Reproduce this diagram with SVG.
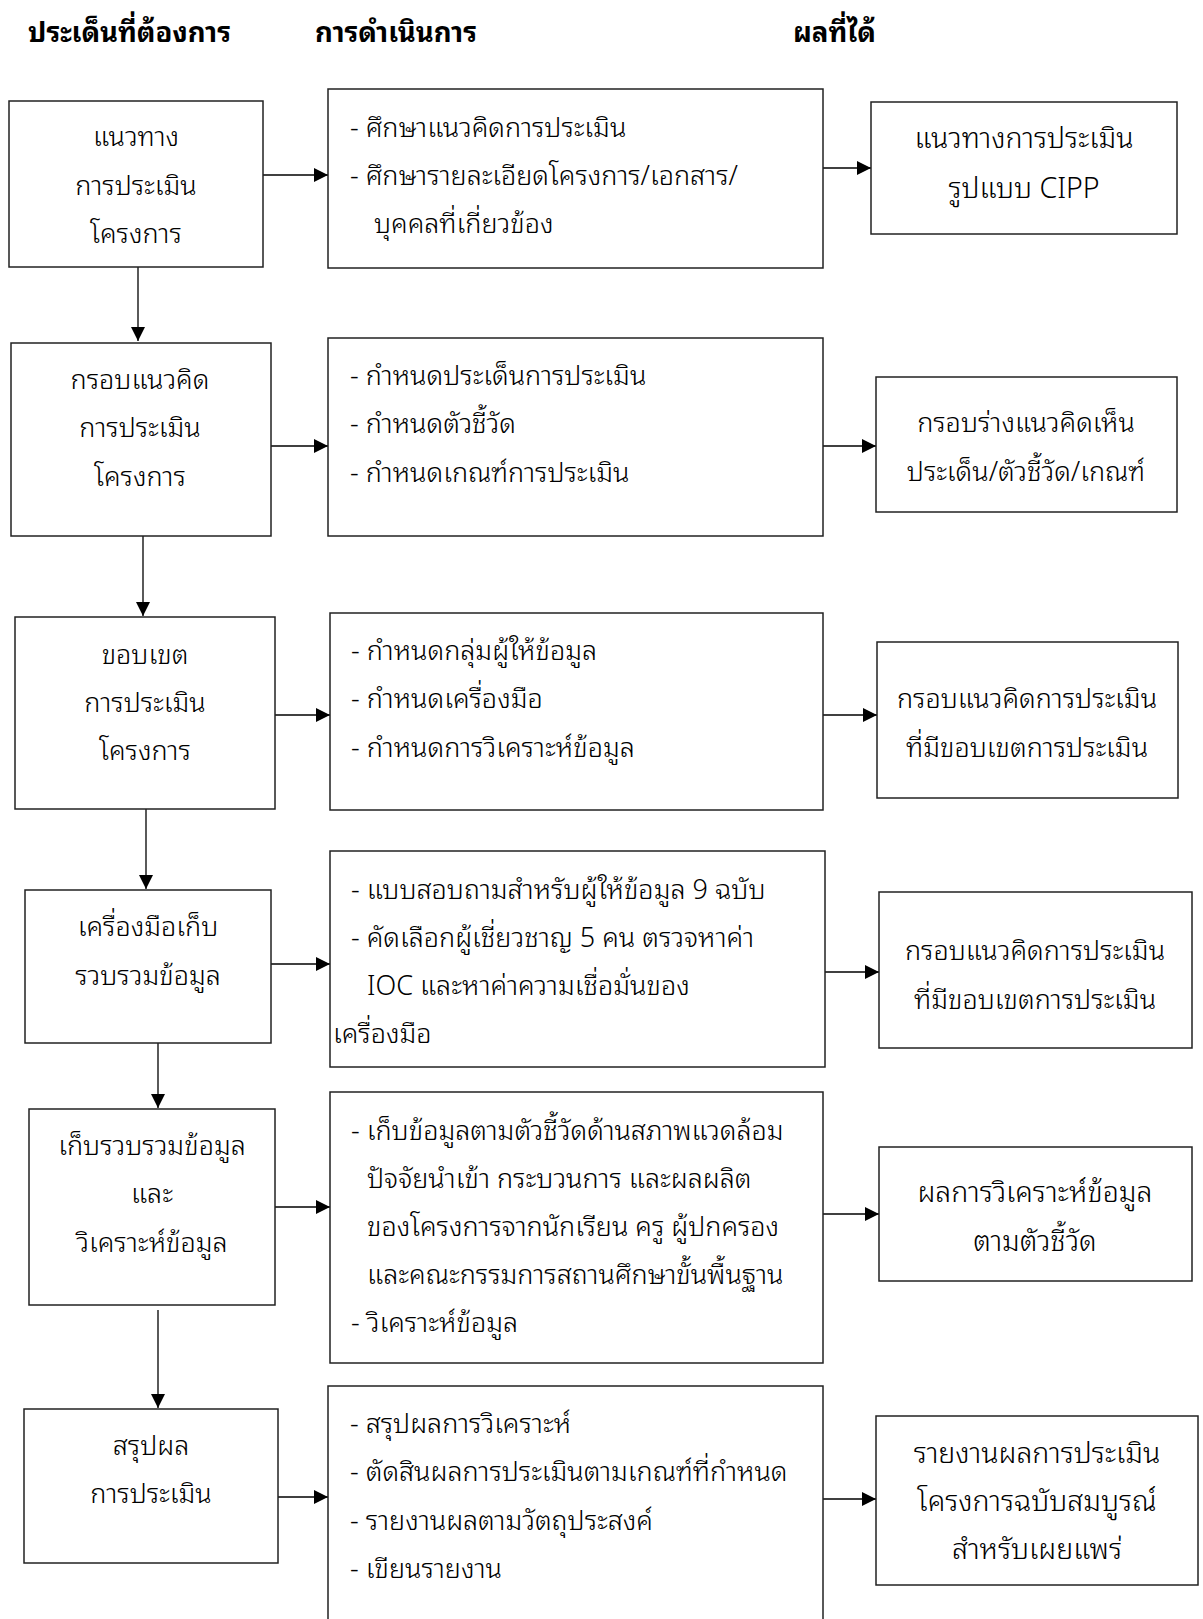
<svg xmlns="http://www.w3.org/2000/svg" width="1203" height="1619" viewBox="0 0 1203 1619">
<style>
text{font-family:"Noto Sans Thai Looped","Loma","Garuda","Noto Sans Thai","Noto Sans",sans-serif;font-size:27px;font-weight:300;fill:#000}
.h{font-weight:bold;font-size:27.5px}
.c{text-anchor:middle}
.w{font-size:28.5px}
.box{fill:#fff;stroke:#222;stroke-width:1.5}
.ln{stroke:#000;stroke-width:1.3;fill:none}
</style>
<defs>
<marker id="ah" viewBox="0 0 10 10" refX="10" refY="5" markerWidth="14" markerHeight="14" markerUnits="userSpaceOnUse" orient="auto">
<path d="M0,0 L10,5 L0,10 z" fill="#000"/>
</marker>
</defs>
<rect width="1203" height="1619" fill="#fff"/>
<g id="headers">
<text class="h" x="28" y="42">ประเด็นที่ต้องการ</text>
<text class="h" x="315" y="42">การดำเนินการ</text>
<text class="h" x="793" y="42">ผลที่ได้</text>
</g>
<g id="connectors">
<line class="ln" x1="263" y1="175" x2="328" y2="175" marker-end="url(#ah)"/>
<line class="ln" x1="823" y1="168" x2="871" y2="168" marker-end="url(#ah)"/>
<line class="ln" x1="138" y1="267" x2="138" y2="341" marker-end="url(#ah)"/>
<line class="ln" x1="271" y1="446" x2="328" y2="446" marker-end="url(#ah)"/>
<line class="ln" x1="823" y1="446" x2="876" y2="446" marker-end="url(#ah)"/>
<line class="ln" x1="143" y1="536" x2="143" y2="616" marker-end="url(#ah)"/>
<line class="ln" x1="275" y1="715" x2="330" y2="715" marker-end="url(#ah)"/>
<line class="ln" x1="823" y1="715" x2="877" y2="715" marker-end="url(#ah)"/>
<line class="ln" x1="146" y1="809" x2="146" y2="889" marker-end="url(#ah)"/>
<line class="ln" x1="271" y1="964" x2="330" y2="964" marker-end="url(#ah)"/>
<line class="ln" x1="825" y1="972" x2="879" y2="972" marker-end="url(#ah)"/>
<line class="ln" x1="158" y1="1043" x2="158" y2="1108" marker-end="url(#ah)"/>
<line class="ln" x1="275" y1="1207" x2="330" y2="1207" marker-end="url(#ah)"/>
<line class="ln" x1="823" y1="1214" x2="879" y2="1214" marker-end="url(#ah)"/>
<line class="ln" x1="158" y1="1310" x2="158" y2="1408" marker-end="url(#ah)"/>
<line class="ln" x1="278" y1="1497" x2="328" y2="1497" marker-end="url(#ah)"/>
<line class="ln" x1="823" y1="1499" x2="876" y2="1499" marker-end="url(#ah)"/>
</g>
<g id="n1a"><rect class="box" x="9" y="101" width="254" height="166"/>
<text class="c" x="136" y="146">แนวทาง</text><text class="c" x="136" y="195">การประเมิน</text><text class="c" x="136" y="243">โครงการ</text></g>
<g id="n1b"><rect class="box" x="328" y="89" width="495" height="179"/>
<text x="350" y="137">- ศึกษาแนวคิดการประเมิน</text><text x="350" y="185">- ศึกษารายละเอียดโครงการ/เอกสาร/</text><text x="374" y="233">บุคคลที่เกี่ยวข้อง</text></g>
<g id="n1c"><rect class="box" x="871" y="102" width="306" height="132"/>
<text class="c w" x="1024" y="148">แนวทางการประเมิน</text><text class="c w" x="1024" y="198">รูปแบบ CIPP</text></g>

<g id="n2a"><rect class="box" x="11" y="343" width="260" height="193"/>
<text class="c" x="140" y="389">กรอบแนวคิด</text><text class="c" x="140" y="437">การประเมิน</text><text class="c" x="140" y="486">โครงการ</text></g>
<g id="n2b"><rect class="box" x="328" y="338" width="495" height="198"/>
<text x="350" y="385">- กำหนดประเด็นการประเมิน</text><text x="350" y="433">- กำหนดตัวชี้วัด</text><text x="350" y="482">- กำหนดเกณฑ์การประเมิน</text></g>
<g id="n2c"><rect class="box" x="876" y="377" width="301" height="135"/>
<text class="c" x="1026" y="432">กรอบร่างแนวคิดเห็น</text><text class="c" x="1026" y="481">ประเด็น/ตัวชี้วัด/เกณฑ์</text></g>

<g id="n3a"><rect class="box" x="15" y="617" width="260" height="192"/>
<text class="c" x="145" y="664">ขอบเขต</text><text class="c" x="145" y="712">การประเมิน</text><text class="c" x="145" y="760">โครงการ</text></g>
<g id="n3b"><rect class="box" x="330" y="613" width="493" height="197"/>
<text x="351" y="660">- กำหนดกลุ่มผู้ให้ข้อมูล</text><text x="351" y="708">- กำหนดเครื่องมือ</text><text x="351" y="757">- กำหนดการวิเคราะห์ข้อมูล</text></g>
<g id="n3c"><rect class="box" x="877" y="642" width="301" height="156"/>
<text class="c" x="1027" y="708">กรอบแนวคิดการประเมิน</text><text class="c" x="1027" y="757">ที่มีขอบเขตการประเมิน</text></g>

<g id="n4a"><rect class="box" x="25" y="890" width="246" height="153"/>
<text class="c" x="148" y="936">เครื่องมือเก็บ</text><text class="c" x="148" y="985">รวบรวมข้อมูล</text></g>
<g id="n4b"><rect class="box" x="330" y="851" width="495" height="216"/>
<text x="351" y="899">- แบบสอบถามสำหรับผู้ให้ข้อมูล 9 ฉบับ</text><text x="351" y="947">- คัดเลือกผู้เชี่ยวชาญ 5 คน ตรวจหาค่า</text><text x="367" y="995">IOC และหาค่าความเชื่อมั่นของ</text><text x="333" y="1043">เครื่องมือ</text></g>
<g id="n4c"><rect class="box" x="879" y="892" width="313" height="156"/>
<text class="c" x="1035" y="960">กรอบแนวคิดการประเมิน</text><text class="c" x="1035" y="1009">ที่มีขอบเขตการประเมิน</text></g>

<g id="n5a"><rect class="box" x="29" y="1109" width="246" height="196"/>
<text class="c" x="152" y="1155">เก็บรวบรวมข้อมูล</text><text class="c" x="152" y="1203">และ</text><text class="c" x="152" y="1252">วิเคราะห์ข้อมูล</text></g>
<g id="n5b"><rect class="box" x="330" y="1092" width="493" height="271"/>
<text x="351" y="1140">- เก็บข้อมูลตามตัวชี้วัดด้านสภาพแวดล้อม</text><text x="367" y="1188">ปัจจัยนำเข้า กระบวนการ และผลผลิต</text><text x="367" y="1236">ของโครงการจากนักเรียน ครู ผู้ปกครอง</text><text x="367" y="1284">และคณะกรรมการสถานศึกษาขั้นพื้นฐาน</text><text x="351" y="1332">- วิเคราะห์ข้อมูล</text></g>
<g id="n5c"><rect class="box" x="879" y="1147" width="313" height="134"/>
<text class="c w" x="1035" y="1202">ผลการวิเคราะห์ข้อมูล</text><text class="c w" x="1035" y="1251">ตามตัวชี้วัด</text></g>

<g id="n6a"><rect class="box" x="24" y="1409" width="254" height="154"/>
<text class="c" x="151" y="1455">สรุปผล</text><text class="c" x="151" y="1503">การประเมิน</text></g>
<g id="n6b"><rect class="box" x="328" y="1386" width="495" height="250"/>
<text x="350" y="1433">- สรุปผลการวิเคราะห์</text><text x="350" y="1481">- ตัดสินผลการประเมินตามเกณฑ์ที่กำหนด</text><text x="350" y="1530">- รายงานผลตามวัตถุประสงค์</text><text x="350" y="1578">- เขียนรายงาน</text></g>
<g id="n6c"><rect class="box" x="876" y="1416" width="322" height="169"/>
<text class="c w" x="1037" y="1463">รายงานผลการประเมิน</text><text class="c w" x="1037" y="1511">โครงการฉบับสมบูรณ์</text><text class="c w" x="1037" y="1559">สำหรับเผยแพร่</text></g>
</svg>
